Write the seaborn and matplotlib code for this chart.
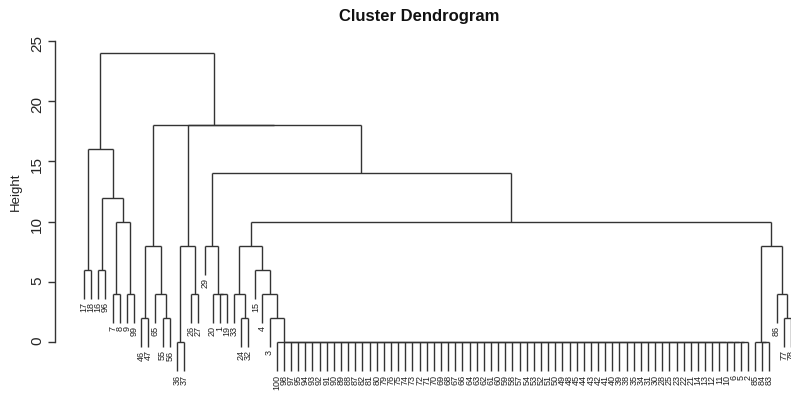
import matplotlib
matplotlib.use("Agg")
import matplotlib.pyplot as plt
import seaborn as sns

# ---------------- data ----------------
# merge table: children are either a leaf label (int) or an earlier node id (str)
node_id = ["n1", "n2", "n3", "n4", "n5", "n6", "n7", "n8", "n9", "n10", "n11",
           "n12", "n13", "n14", "n15", "n16", "n17", "n18", "n19", "n20", "n21",
           "n22", "n23", "n24", "n25", "n26", "n27", "n28", "n29", "n30", "n31",
           "n32", "n33"]
node_left = [17, 16, 7, 9, "n3", "n2", "n1", 46, 55, 65, "n8",
             36, 26, "n12", 1, 20, 29, 24, 33, 3, 4,
             15, "n19", 84, 85, 77, 86, "n25", "n23", "n17", "n14",
             "n11", "n7"]
node_right = [18, 96, 8, 99, "n4", "n5", "n6", 47, 56, "n9", "n10",
              37, 27, "n13", 19, "n15", "n16", 32, "n18", "flat", "n20",
              "n21", "n22", 83, "n24", 78, "n26", "n27", "n28", "n29", "n30",
              "n31", "n32"]
node_height = [6, 6, 4, 4, 10, 12, 16, 2, 2, 4, 8,
               0, 4, 8, 4, 4, 8, 2, 4, 2, 4,
               6, 8, 0, 0, 2, 4, 8, 10, 14, 18,
               18, 24]

# large group of identical observations joined at height 0 (display order)
flat_labels = [100, 98, 97, 95, 94, 93, 92, 91, 90, 89, 88, 87, 82, 81, 80, 79,
               76, 75, 74, 73, 72, 71, 70, 69, 68, 67, 66, 64, 63, 62, 61, 60,
               59, 58, 57, 54, 53, 52, 51, 50, 49, 48, 45, 44, 43, 42, 41, 40,
               39, 38, 35, 34, 31, 30, 28, 25, 23, 22, 21, 14, 13, 12, 11, 10,
               6, 5, 2]
flat_height = 0

y_ticks = [0, 5, 10, 15, 20, 25]
title = "Cluster Dendrogram"
y_label = "Height"

# ---------------- style ----------------
sns.set_theme(style="ticks")
plt.rcParams["font.family"] = ["Liberation Sans", "DejaVu Sans"]
line_color = "#333333"
lw = 1.0

W, H = 791, 395
fig = plt.figure(figsize=(W / 100, H / 100), dpi=100)
ax = fig.add_axes([60 / W, 23 / H, (W - 60) / W, (372 - 30) / H])

nodes = {n: (l, r, h) for n, l, r, h in zip(node_id, node_left, node_right, node_height)}
all_h = node_height + [flat_height]
hang = 0.1 * (max(all_h) - min(all_h))

segments = []
leaf_pos = []
counter = [0]


def place_leaf(label, parent_h):
    counter[0] += 1
    x = counter[0]
    segments.append(((x, x), (parent_h, parent_h - hang)))
    leaf_pos.append((x, parent_h - hang, label))
    return x


def place(tok, parent_h):
    """returns x position of the top of this subtree; draws vertical from parent_h down"""
    if isinstance(tok, int):
        return place_leaf(tok, parent_h)
    if tok == "flat":
        xs = [None] * len(flat_labels)
        for i, lab in enumerate(flat_labels):
            counter[0] += 1
            xs[i] = counter[0]
            segments.append(((xs[i], xs[i]), (flat_height, flat_height - hang)))
            leaf_pos.append((xs[i], flat_height - hang, lab))
        # right-nested chain of merges at equal height
        c = (xs[-2] + xs[-1]) / 2
        segments.append(((xs[-2], xs[-1]), (flat_height, flat_height)))
        for i in range(len(xs) - 3, -1, -1):
            segments.append(((xs[i], c), (flat_height, flat_height)))
            c = (xs[i] + c) / 2
        segments.append(((c, c), (parent_h, flat_height)))
        return c
    l, r, h = nodes[tok]
    xl = place(l, h)
    xr = place(r, h)
    segments.append(((xl, xr), (h, h)))
    xc = (xl + xr) / 2
    if parent_h is not None:
        segments.append(((xc, xc), (parent_h, h)))
    return xc


place(node_id[-1], None)

for xs_, ys_ in segments:
    ax.plot(xs_, ys_, color=line_color, lw=lw, solid_capstyle="butt", clip_on=False)

for x, yb, lab in leaf_pos:
    ax.text(x, yb - 0.3, str(lab), rotation=90, ha="center", va="top",
            fontsize=6.5, color="#222222", clip_on=False)

ax.set_xlim(-2.36, 100.02)
ax.set_ylim(-2.49, 25.91)
ax.set_xticks([])
ax.set_yticks(y_ticks)
ax.set_yticklabels([str(t) for t in y_ticks], fontsize=9.5, color="#222222")
ax.tick_params(axis="y", length=5, width=lw, color=line_color, pad=3,
               labelrotation=90)
for t in ax.get_yticklabels():
    t.set_verticalalignment("center")
sns.despine(ax=ax, bottom=True, right=True, top=True)
ax.spines["left"].set_position(("outward", 3.6))
ax.spines["left"].set_bounds(0, 25)
ax.spines["left"].set_color(line_color)
ax.spines["left"].set_linewidth(lw)
ax.patch.set_alpha(0)

fig.text(419 / W, 1 - 16 / H, title, ha="center", va="center",
         fontsize=12, fontweight="bold", color="#111111")
fig.text(16 / W, 1 - 192 / H, y_label, ha="center", va="center", rotation=90,
         fontsize=9.5, color="#222222")

fig.savefig("out.png", dpi=100)
